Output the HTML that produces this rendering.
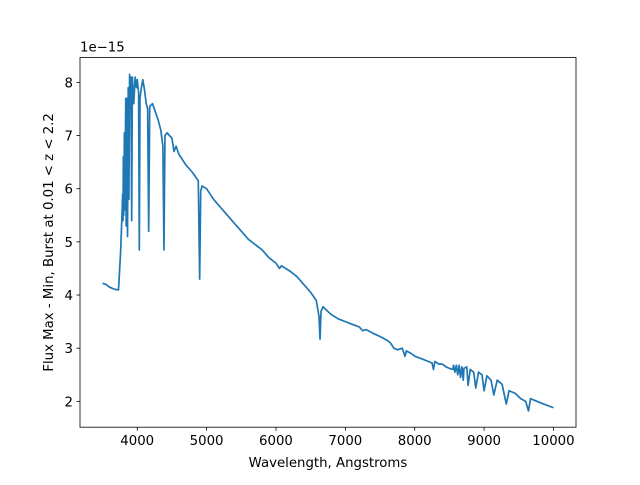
<!DOCTYPE html>
<html><head><meta charset="utf-8"><style>
body{margin:0;background:#fff;font-family:"Liberation Sans","DejaVu Sans",sans-serif}
text{font-family:"DejaVu Sans","Liberation Sans",sans-serif}
</style></head><body>
<svg id="chart" width="640" height="480" xmlns="http://www.w3.org/2000/svg">
<rect width="640" height="480" fill="#fff"/>
<g id="plot"></g>
</svg>
<script>
const wavelengths=[3500,3550,3600,3650,3700,3730,3760,3780,3790,3795,3800,3805,3815,3820,3835,3840,3850,3860,3870,3880,3890,3900,3910,3920,3930,3950,3970,3990,4000,4020,4030,4040,4060,4080,4100,4130,4150,4165,4180,4220,4260,4300,4340,4370,4385,4400,4430,4500,4530,4560,4600,4700,4800,4880,4900,4915,4935,5000,5100,5200,5300,5400,5500,5600,5700,5800,5900,6000,6050,6080,6200,6300,6400,6500,6580,6620,6635,6650,6680,6700,6800,6900,7000,7100,7200,7250,7300,7400,7500,7600,7650,7700,7750,7820,7860,7880,7950,8000,8100,8200,8250,8270,8290,8350,8400,8450,8500,8550,8560,8580,8600,8620,8640,8660,8680,8700,8710,8750,8770,8800,8850,8880,8920,8970,9000,9040,9100,9140,9190,9260,9320,9360,9450,9530,9600,9640,9670,9800,10000];
const flux=[4.22,4.2,4.15,4.12,4.1,4.1,4.8,5.5,5.9,5.4,6.6,5.5,7.05,5.6,7.7,5.3,7.7,5.1,7.9,5.8,8.15,7.5,8.1,5.4,8.1,7.6,8.1,7.9,8.05,7.8,4.85,7.7,7.9,8.05,7.9,7.6,7.5,5.2,7.55,7.6,7.45,7.3,7.1,6.8,4.85,7.0,7.05,6.95,6.7,6.8,6.65,6.45,6.3,6.15,4.3,5.95,6.05,6.0,5.8,5.65,5.5,5.35,5.2,5.05,4.95,4.85,4.7,4.6,4.5,4.55,4.45,4.35,4.2,4.05,3.9,3.6,3.17,3.7,3.78,3.75,3.63,3.55,3.5,3.45,3.4,3.33,3.35,3.28,3.22,3.15,3.1,3.0,2.97,3.0,2.85,2.95,2.9,2.85,2.8,2.75,2.72,2.6,2.75,2.7,2.7,2.65,2.62,2.6,2.68,2.55,2.68,2.5,2.68,2.45,2.65,2.4,2.62,2.65,2.3,2.6,2.55,2.25,2.55,2.5,2.2,2.48,2.4,2.12,2.4,2.32,1.95,2.2,2.15,2.05,2.0,1.82,2.05,1.98,1.88];
const xTicks=[4000,5000,6000,7000,8000,9000,10000];
const yTicks=[2,3,4,5,6,7,8];
const L=80,R=576,T=57.6,B=427.2;
const xmin=3175,xmax=10325,ymin=1.514,ymax=8.466;
const X=v=>L+(v-xmin)/(xmax-xmin)*(R-L);
const Y=v=>B-(v-ymin)/(ymax-ymin)*(B-T);
const NS='http://www.w3.org/2000/svg';
const g=document.getElementById('plot');
const FS=13.3;
function mk(t,a,txt){const e=document.createElementNS(NS,t);for(const k in a)e.setAttribute(k,a[k]);if(txt!==undefined)e.textContent=txt;g.appendChild(e);return e;}
let d=wavelengths.map((w,i)=>(i?'L':'M')+X(w).toFixed(2)+','+Y(flux[i]).toFixed(2)).join('');
const line=mk('path',{d:d,fill:'none',stroke:'#1f77b4','stroke-width':1.7,'stroke-linejoin':'round'});


xTicks.forEach(v=>{const x=X(v);
const t=mk('line',{x1:x,x2:x,y1:B,y2:B+3.5,stroke:'#000','stroke-width':0.8});


const l=mk('text',{x:x,y:B+18,'text-anchor':'middle','font-size':FS},String(v));

});
yTicks.forEach(v=>{const y=Y(v);
const t=mk('line',{x1:L-3.5,x2:L,y1:y,y2:y,stroke:'#000','stroke-width':0.8});


const l=mk('text',{x:L-7,y:y+5,'text-anchor':'end','font-size':FS},String(v));

});
const fr=mk('rect',{x:L,y:T,width:R-L,height:B-T,fill:'none',stroke:'#000','stroke-width':0.8});


const off=mk('text',{x:L,y:T-6,'font-size':FS},'1e\u221215');


const xl=mk('text',{x:(L+R)/2,y:467,'text-anchor':'middle','font-size':FS},'Wavelength, Angstroms');


const yl=mk('text',{x:0,y:0,'text-anchor':'middle','font-size':FS,transform:'translate(53,'+((T+B)/2)+') rotate(-90)'},'Flux Max - Min, Burst at 0.01 < z < 2.2');


</script>
</body></html>
